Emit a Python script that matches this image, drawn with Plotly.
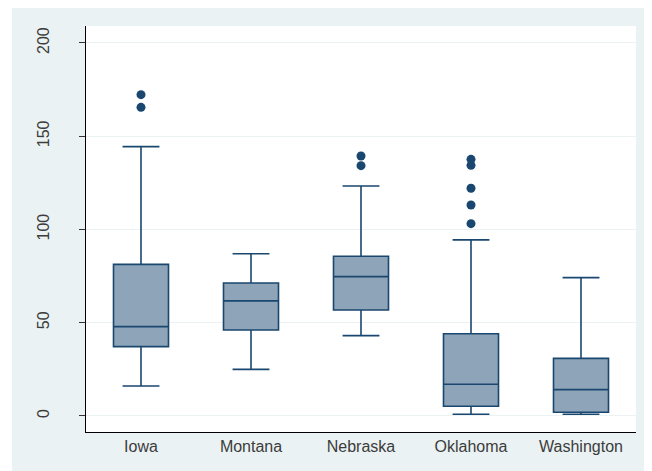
import plotly.graph_objects as go

# ---- data ----
states = ["Iowa", "Montana", "Nebraska", "Oklahoma", "Washington"]
q1 = [37.2, 46.1, 56.8, 5.2, 2.0]
median = [47.9, 61.7, 74.7, 17.0, 14.1]
q3 = [81.3, 71.3, 85.6, 44.1, 30.9]
lower_whisker = [16.1, 25.0, 43.1, 0.9, 0.9]
upper_whisker = [144.4, 87.0, 123.3, 94.4, 74.2]

outlier_states = ["Iowa", "Iowa", "Nebraska", "Nebraska",
                  "Oklahoma", "Oklahoma", "Oklahoma", "Oklahoma", "Oklahoma"]
outlier_values = [172.3, 165.5, 139.4, 134.2,
                  137.6, 134.4, 122.1, 113.1, 103.1]

y_ticks = [0, 50, 100, 150, 200]

# ---- style ----
NAVY = "#1A476F"
FILL = "#8EA4B8"
BG = "#EAF2F3"
TEXT = "#3C3C3C"
FONT = "Liberation Sans, Arial, sans-serif"

W, H = 652, 471
ML, MR, MT, MB = 78, 24, 18, 47

fig = go.Figure()
fig.add_trace(go.Box(
    x=states,
    q1=q1, median=median, q3=q3,
    lowerfence=lower_whisker, upperfence=upper_whisker,
    fillcolor=FILL,
    line=dict(color=NAVY, width=1.6),
    width=0.5,
    whiskerwidth=0.67,
    boxpoints=False,
    showlegend=False,
    hoverinfo="skip",
))
fig.add_trace(go.Scatter(
    x=outlier_states, y=outlier_values,
    mode="markers",
    marker=dict(color=NAVY, size=9, line=dict(width=0)),
    showlegend=False,
    hoverinfo="skip",
))

pw = W - ML - MR
ph = H - MT - MB
def px_x(p):
    return (p - ML) / pw
def px_y(p):
    return (H - MB - p) / ph

shapes = [
    dict(type="rect", xref="paper", yref="paper",
         x0=px_x(-5), x1=px_x(4), y0=px_y(H + 5), y1=px_y(-5),
         fillcolor="white", line=dict(width=0), layer="below"),
]

fig.update_layout(
    width=W, height=H,
    margin=dict(l=ML, r=MR, t=MT, b=MB, pad=0),
    paper_bgcolor=BG,
    plot_bgcolor="white",
    font=dict(family=FONT, size=16, color=TEXT),
    shapes=shapes,
    xaxis=dict(
        type="category",
        categoryorder="array", categoryarray=states,
        range=[-0.5, 4.5],
        showgrid=False,
        showline=True, linecolor="#000000", linewidth=1,
        ticks="",
        tickfont=dict(size=16, color=TEXT),
        zeroline=False,
    ),
    yaxis=dict(
        range=[-8.6, 209.1],
        tickvals=y_ticks,
        ticktext=[str(v) for v in y_ticks],
        tickangle=-90,
        showgrid=True, gridcolor=BG, gridwidth=1,
        showline=True, linecolor="#000000", linewidth=1,
        ticks="outside", ticklen=6, tickcolor="#333333", tickwidth=1,
        tickfont=dict(size=16, color=TEXT),
        ticklabelstandoff=24,
        zeroline=False,
    ),
)

fig.write_html("out.html")
